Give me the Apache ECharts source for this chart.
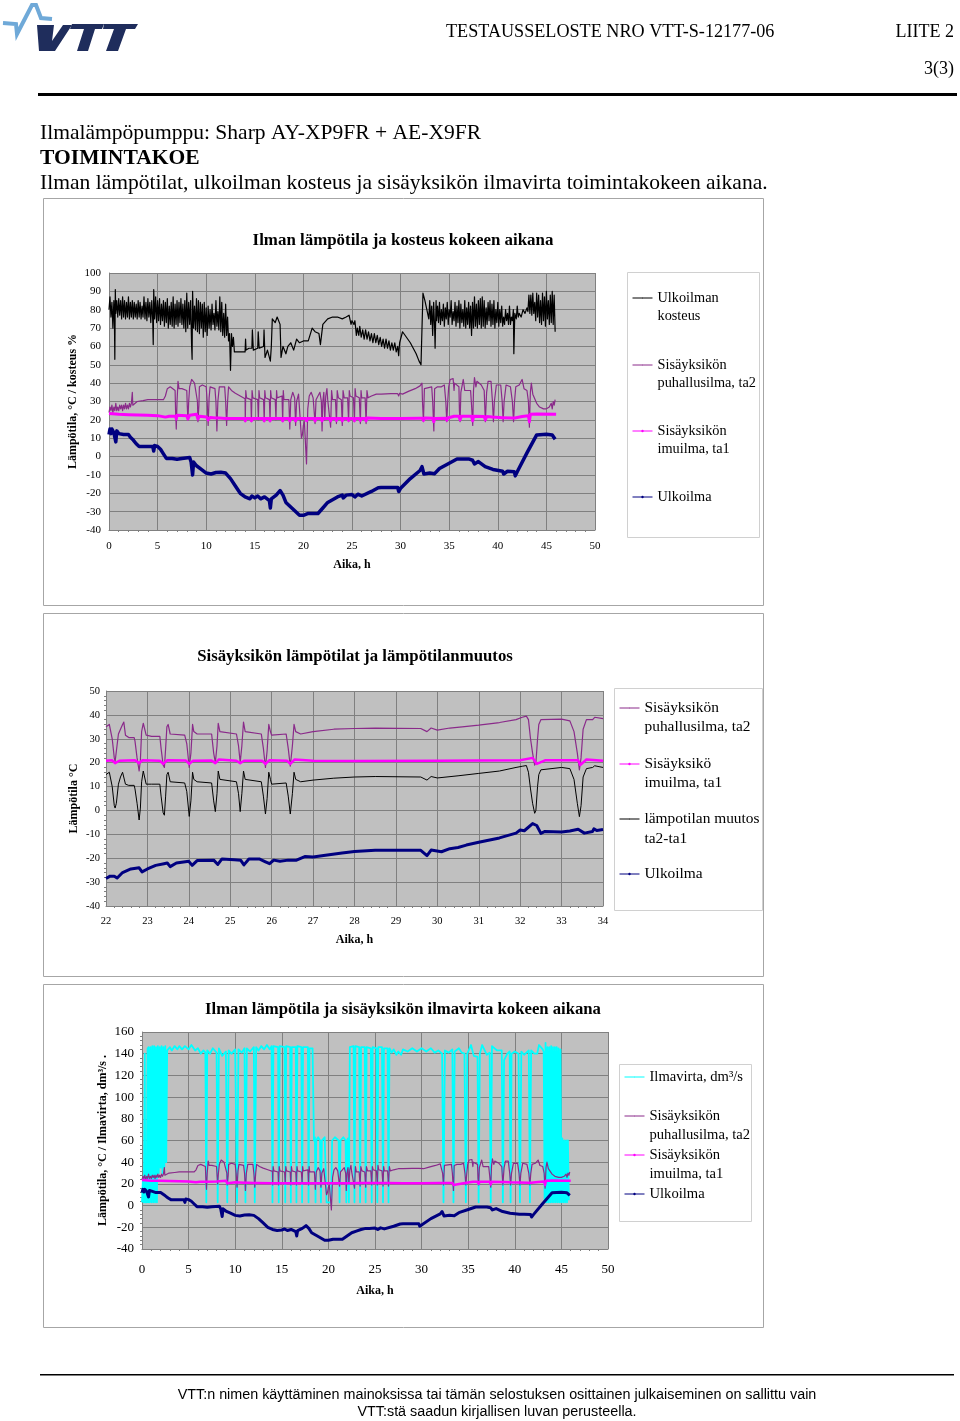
<!DOCTYPE html>
<html>
<head>
<meta charset="utf-8">
<title>Toimintakoe</title>
<script src="https://cdn.jsdelivr.net/npm/echarts@6/dist/echarts.min.js"></script>
<style>
  html, body { margin: 0; padding: 0; background: #fff; }
  #main { width: 960px; height: 1421px; }
</style>
</head>
<body>
<div id="main"></div>
<script>
// Full test, hours 0-46
var humidity = [
  [0,80],[.1,87],[.2,76],[.3,84],[.4,70],[.5,85],[.55,78],[.6,53],[.65,91],[.7,78],[.8,85],[.9,76],[1,86],[1.1,77],[1.2,85],[1.3,75],[1.4,87],[1.5,76],[1.6,85],[1.7,75],[1.8,84],[1.9,76],[2,87],[2.1,75],[2.2,84],[2.3,76],[2.4,85],[2.5,75],[2.6,84],[2.7,76],[2.8,83],[2.9,75],[3,85],[3.1,76],[3.2,84],[3.3,75],[3.4,82],[3.5,76],[3.6,87],[3.7,75],[3.8,84],[3.9,74],[4,86],[4.1,76],[4.2,84],[4.3,73],[4.4,85],[4.5,74],[4.55,61],[4.6,91],[4.7,75],[4.8,87],[4.9,73],[5,85],[5.1,74],[5.2,86],[5.3,72],[5.4,83],[5.5,74],[5.6,85],[5.7,71],[5.8,84],[5.9,73],[6,86],[6.1,70],[6.2,82],[6.3,72],[6.4,84],[6.5,71],[6.6,87],[6.7,70],[6.8,83],[6.9,72],[7,85],[7.1,71],[7.2,84],[7.3,73],[7.4,86],[7.5,72],[7.6,83],[7.7,70],[7.8,85],[7.9,68],[8,89],[8.1,70],[8.2,84],[8.3,72],[8.4,85],[8.5,60],[8.55,53],[8.6,90],[8.7,70],[8.8,82],[8.9,69],[9,86],[9.1,68],[9.2,85],[9.3,67],[9.4,84],[9.5,70],[9.6,83],[9.7,65],[9.8,84],[9.9,68],[10,81],[10.1,66],[10.2,82],[10.3,70],[10.4,80],[10.5,69],[10.6,83],[10.7,72],[10.8,78],[10.9,69],[11,85],[11.1,71],[11.2,79],[11.3,69],[11.4,87],[11.5,68],[11.6,84],[11.7,66],[11.8,78],[11.9,65],[12,83],[12.1,66],[12.2,76],[12.3,63],[12.4,67],[12.5,47],[12.6,67],[12.7,60],[12.8,65],[12.9,57],[13,58],[13.5,57],[14,57],[14.05,64],[14.1,58],[14.4,59],[14.7,59],[14.75,69],[14.85,58],[15.3,59],[15.35,68],[15.45,59],[15.9,60],[15.95,69],[16.05,54],[16.3,58],[16.6,52],[16.7,60],[16.8,75],[17.1,73],[17.3,76],[17.4,77],[17.6,72],[17.7,54],[17.9,60],[18.2,56],[18.4,60],[18.7,62],[19,58],[19.3,64],[19.6,62],[20,63],[20.5,63],[20.9,70],[21.2,68],[21.6,67],[21.75,61],[22,72],[22.5,75],[23,76],[23.5,76],[24,75],[24.4,76],[24.7,77],[24.9,72],[25,74],[25.2,72],[25.3,74],[25.45,66],[25.55,70],[25.7,66],[25.8,71],[25.95,65],[26.1,69],[26.25,64],[26.4,69],[26.55,64],[26.7,68],[26.85,63],[27,67],[27.15,62],[27.3,67],[27.45,62],[27.6,66],[27.75,61],[27.9,65],[28.05,60],[28.2,64],[28.35,59],[28.5,64],[28.65,59],[28.8,63],[28.95,58],[29.1,62],[29.25,58],[29.4,62],[29.55,57],[29.7,60],[29.8,55],[29.9,62],[30.2,68],[30.4,67],[30.6,65],[31,62],[31.3,59],[31.6,56],[31.9,52],[32.1,50],[32.15,60],[32.3,89],[32.5,85],[32.7,80],[32.9,75],[33,85],[33.1,72],[33.2,82],[33.3,66],[33.4,84],[33.5,70],[33.55,59],[33.65,85],[33.7,74],[33.8,82],[33.9,73],[34,84],[34.1,72],[34.2,80],[34.3,74],[34.4,83],[34.5,71],[34.6,81],[34.7,75],[34.8,84],[34.9,72],[35,80],[35.1,76],[35.2,85],[35.3,72],[35.4,79],[35.5,74],[35.6,84],[35.7,71],[35.8,82],[35.9,73],[36,85],[36.1,70],[36.2,83],[36.3,73],[36.4,80],[36.5,71],[36.6,85],[36.7,70],[36.8,81],[36.9,72],[37,84],[37.1,70],[37.2,82],[37.3,66],[37.4,84],[37.5,70],[37.6,87],[37.7,71],[37.8,83],[37.9,70],[38,85],[38.1,72],[38.2,86],[38.3,70],[38.4,87],[38.5,71],[38.6,85],[38.7,70],[38.8,81],[38.9,72],[39,84],[39.1,74],[39.2,85],[39.3,71],[39.4,83],[39.5,72],[39.6,85],[39.7,70],[39.8,80],[39.9,73],[40,84],[40.1,71],[40.2,80],[40.3,73],[40.4,82],[40.5,71],[40.6,76],[40.7,72],[40.8,80],[40.9,74],[41,78],[41.1,72],[41.2,82],[41.3,72],[41.4,76],[41.5,74],[41.6,80],[41.65,56],[41.75,78],[41.9,75],[42,82],[42.1,76],[42.2,78],[42.4,76],[42.6,80],[42.8,78],[43,81],[43.1,79],[43.2,88],[43.3,78],[43.4,88],[43.5,77],[43.6,89],[43.7,78],[43.8,84],[43.9,74],[44,89],[44.1,76],[44.2,88],[44.3,73],[44.4,85],[44.5,72],[44.6,89],[44.7,74],[44.8,87],[44.9,71],[45,90],[45.1,75],[45.2,85],[45.3,72],[45.4,88],[45.5,73],[45.6,90],[45.7,72],[45.8,88],[45.9,68]
];
var ta2 = [
  [0,24],[.1,27],[.2,25],[.3,28],[.4,24],[.5,27],[.6,25],[.7,29],[.8,25],[.9,27],[1,25],[1.1,28],[1.2,26],[1.3,28],[1.4,25],[1.5,28],[1.6,26],[1.7,29],[1.8,26],[1.9,28],[2,26],[2.1,29],[2.2,27],[2.3,29],[2.4,35],[2.45,28],[2.6,29],[2.9,30],[3.1,31],[3.5,30.5],[4,31],[5,31],[5.6,31],[5.8,33],[6,37],[6.3,38],[6.8,36],[6.85,25],[6.92,15],[7,30],[7.1,41],[7.2,37],[7.5,37],[7.6,36.5],[8,36],[8.05,28],[8.12,20],[8.2,30],[8.3,38],[8.45,37],[8.5,42],[8.8,40],[9,40],[9.1,30],[9.15,19],[9.25,28],[9.3,38],[9.6,39],[10,38],[10.1,30],[10.2,17],[10.3,32],[10.4,38],[10.9,37],[11,30],[11.1,14],[11.2,30],[11.35,38],[11.9,38],[12,30],[12.1,17],[12.2,30],[12.3,38],[12.6,36],[13,34.5],[13.5,33],[14,31.5],[14.02,19],[14.07,36],[14.15,32],[14.6,31],[14.65,19],[14.72,36],[14.8,32],[15.3,31],[15.37,20],[15.43,36],[15.5,32],[15.9,31],[15.97,19],[16.03,36],[16.1,32],[16.5,31],[16.57,19],[16.63,36],[16.7,32],[17.1,31],[17.18,20],[17.24,36],[17.3,32],[17.8,33],[17.87,19],[17.93,36],[18,31],[18.5,31],[18.6,15],[18.7,31],[18.9,35],[19.1,32],[19.2,17],[19.3,30],[19.5,34],[19.7,34],[19.8,10],[19.9,12],[20,17],[20.1,19],[20.2,19],[20.32,-4],[20.45,26],[20.6,33],[20.8,35],[21,32],[21.1,32],[21.2,18],[21.3,31],[21.5,33],[21.7,35],[21.85,30],[21.92,14],[22,30],[22.1,35],[22.2,20],[22.3,33],[22.42,37],[22.5,31],[22.7,30],[22.8,16],[22.9,36],[23,31],[23.3,31],[23.4,18],[23.48,36],[23.6,32],[23.9,31],[24,17],[24.08,36],[24.2,32],[24.55,32],[24.65,19],[24.72,36],[24.8,33],[25.15,32],[25.25,19],[25.32,37],[25.4,33],[25.75,32],[25.86,18],[25.93,36],[26,32],[26.35,32],[26.45,18],[26.54,36],[26.65,32],[27,33],[27.5,34],[28,34],[29,34.3],[29.7,34.3],[29.8,33],[29.9,34.5],[30.2,34],[30.8,35.5],[31.5,37],[32,38.5],[32.2,40],[32.25,30],[32.35,19],[32.45,37],[32.6,38],[33.2,38],[33.3,30],[33.42,14],[33.5,37],[33.8,38],[34.2,38],[34.5,39],[34.65,30],[34.75,19],[34.85,30],[34.95,38],[35.1,42],[35.4,42.5],[35.5,36],[35.55,40],[36,38],[36.05,25],[36.12,19],[36.2,35],[36.45,42],[36.6,36],[36.8,37],[37.2,36],[37.3,28],[37.42,17],[37.5,36],[37.6,43],[37.75,38],[37.85,41],[38.3,39],[38.6,36],[38.72,19],[38.85,35],[39,41],[39.3,41],[39.45,30],[39.55,19],[39.65,30],[39.85,39],[40.3,39],[40.45,30],[40.55,19],[40.65,30],[40.85,39],[41.3,38],[41.5,30],[41.62,19],[41.72,30],[41.85,38],[42.2,39],[42.5,42],[42.7,37],[43,36],[43.15,30],[43.25,16],[43.35,35],[43.45,40],[43.6,34],[43.8,33],[44,29],[44.3,27],[44.7,26],[45,26],[45.2,25],[45.3,27],[45.4,26],[45.5,29],[45.6,26],[45.7,30],[45.8,28],[45.9,31]
];
var ta1 = [
  [0,23.5],[1,23],[2,22.8],[3,22.7],[4,22.5],[5,22.3],[5.8,21.5],[6.2,22],[6.85,22],[6.92,20.5],[7,22.5],[8,22.3],[8.12,20.5],[8.3,22.5],[9,23],[9.15,20.5],[9.3,22],[10.05,21.5],[10.2,20],[10.4,21.3],[11,21],[11.1,20.3],[11.3,21],[12,20.8],[12.1,20.3],[12.3,20.8],[13.95,20.7],[14.02,19.5],[14.1,20.7],[14.6,20.7],[14.65,19.5],[14.75,20.7],[15.3,20.7],[15.37,19.7],[15.45,20.7],[15.9,20.7],[15.97,19.5],[16.05,20.7],[16.5,20.7],[16.57,19.5],[16.65,20.7],[17.1,20.7],[17.18,19.7],[17.25,20.7],[17.8,20.7],[17.87,19.5],[17.95,20.7],[18.5,20.7],[18.6,19.5],[18.7,20.7],[19.1,20.7],[19.2,19.5],[19.3,20.7],[19.7,20.7],[19.8,19.7],[19.9,20.7],[20.25,20.7],[20.32,19.5],[20.45,20.7],[21.1,20.7],[21.2,19.5],[21.3,20.7],[21.85,20.7],[21.92,19.5],[22,20.7],[22.7,20.7],[22.8,19.5],[22.9,20.8],[23.3,20.8],[23.4,19.7],[23.5,20.8],[23.9,20.8],[24,19.5],[24.1,20.8],[24.55,20.8],[24.65,19.7],[24.75,20.8],[25.15,20.8],[25.25,19.5],[25.35,20.8],[25.75,20.8],[25.86,19.7],[25.95,20.8],[26.35,20.8],[26.45,19.5],[26.55,21],[28,20.7],[30,20.7],[32,20.9],[32.25,20.9],[32.35,19.7],[32.45,21],[33.3,20.9],[33.42,19],[33.5,20.8],[34.65,20.9],[34.75,19.8],[34.85,21],[35.5,22],[36,21.9],[36.12,20],[36.25,22],[37.3,22],[37.42,19.5],[37.5,22],[38.6,21.8],[38.72,20],[38.85,21.8],[39.45,21.5],[39.55,20.5],[39.65,21.5],[40.45,21.2],[40.55,20.3],[40.65,21],[41.5,21],[41.62,20.3],[41.75,21],[42.5,21.8],[43.15,22.2],[43.25,19],[43.35,23],[44,23.2],[46,23]
];
var outdoor = [
  [0,12],[.1,15],[.2,12.5],[.3,15],[.5,13],[.65,13],[.7,8],[.8,14],[1,12.5],[1.5,12],[2,12],[2.2,10.5],[2.5,9],[2.8,7],[3.1,5.5],[4,5.5],[4.5,5.5],[4.6,3],[4.7,6],[5,5.5],[5.3,4],[5.6,1.5],[5.9,-1],[6.5,-1],[7,-1.5],[7.2,-2],[7.5,-1],[8.3,-.5],[8.45,-3],[8.6,-10],[8.7,-3],[9,-5],[9.5,-7],[10,-9],[10.5,-9.5],[11,-8.7],[11.2,-9.5],[11.5,-8.5],[12,-9],[12.5,-12],[13,-16],[13.5,-20],[14,-22],[14.5,-23],[14.7,-21.5],[15,-22.5],[15.3,-21.5],[15.6,-23],[16,-22],[16.5,-24],[16.6,-28],[16.7,-23],[17.2,-21],[17.6,-18.5],[17.9,-21],[18.2,-25],[19,-29],[19.6,-32],[20,-32],[20.5,-31],[21.5,-31],[22,-28],[22.5,-25],[23,-23.5],[23.5,-22],[24,-21],[24.1,-22.5],[24.4,-21],[25,-20.7],[25.3,-22],[25.6,-20.5],[26,-21.5],[27,-19],[27.7,-17],[28,-16.8],[29.7,-16.8],[29.8,-19],[30,-17.3],[31,-12],[32,-7.6],[32.2,-5.5],[32.4,-9.5],[33,-9],[33.5,-9.3],[34,-6.5],[35,-3.6],[35.8,-1.3],[37,-1.3],[37.4,-2],[37.6,-4],[38,-2.7],[38.7,-5.5],[39.5,-7],[40.5,-8],[40.6,-9.5],[41,-8],[41.7,-8.3],[41.8,-10.5],[42,-8.3],[43,2],[44,11.8],[44.2,12.4],[45,12.2],[45.6,11.8],[45.9,9.5]
];
var airflow = [
  [0,3],[.1,25],[.2,3],[.3,140],[.35,3],[.45,25],[.5,3],[.6,145],[.65,3],[.7,146],[.8,3],[.9,146],[1,3],[1.1,147],[1.2,3],[1.3,147],[1.4,3],[1.5,146],[1.6,3],[1.7,147],[1.8,30],[1.9,146],[2,35],[2.1,147],[2.2,30],[2.3,146],[2.4,35],[2.5,147],[2.6,40],[2.7,143],[3,146],[3.2,143],[3.5,147],[3.8,144],[4,147],[4.3,144],[4.6,147],[5,144],[5.3,148],[5.7,143],[6,145],[6.3,140],[6.6,143],[6.8,141],[6.9,3],[7,143],[7.3,140],[7.6,145],[8,141],[8.12,3],[8.25,145],[8.6,138],[9,142],[9.15,3],[9.3,143],[9.6,140],[10,144],[10.2,3],[10.35,144],[10.7,141],[11,145],[11.1,3],[11.25,145],[11.6,142],[12,146],[12.1,3],[12.25,146],[12.5,143],[12.8,147],[13.1,144],[13.4,148],[13.7,144],[13.9,147],[14,3],[14.1,147],[14.6,146],[14.67,3],[14.77,147],[15.3,146],[15.37,3],[15.47,147],[15.9,146],[15.97,3],[16.07,146],[16.5,146],[16.57,3],[16.67,147],[17.1,146],[17.18,3],[17.28,146],[17.8,146],[17.87,3],[17.97,145],[18.3,145],[18.45,60],[18.55,63],[18.62,3],[18.7,60],[18.9,63],[19.1,60],[19.2,3],[19.3,60],[19.6,63],[19.8,3],[20.3,3],[20.4,60],[20.7,63],[21.1,60],[21.2,3],[21.3,60],[21.6,63],[21.85,60],[21.92,3],[22,60],[22.1,62],[22.2,3],[22.3,146],[22.7,147],[22.8,3],[22.9,147],[23.3,146],[23.4,3],[23.5,146],[23.9,146],[24,3],[24.1,146],[24.55,145],[24.65,3],[24.75,146],[25.15,145],[25.25,3],[25.35,146],[25.75,146],[25.86,3],[25.96,145],[26.35,145],[26.45,3],[26.55,145],[26.8,141],[27,144],[27.3,139],[27.5,142],[27.8,139],[28,144],[28.5,142],[29,145],[29.5,142],[30,145],[30.5,142],[31,145],[31.4,141],[31.8,143],[32.2,140],[32.35,3],[32.5,143],[32.9,141],[33.3,144],[33.42,3],[33.55,142],[34,145],[34.3,141],[34.6,140],[34.75,3],[34.9,140],[35.3,148],[35.6,138],[36,137],[36.12,3],[36.25,140],[36.5,148],[37,139],[37.3,141],[37.42,3],[37.55,147],[38.1,143],[38.6,143],[38.72,3],[38.85,134],[39.2,140],[39.45,142],[39.55,3],[39.65,140],[40,142],[40.4,140],[40.55,3],[40.7,142],[41,139],[41.5,143],[41.62,3],[41.75,143],[42.1,140],[42.4,140],[42.6,148],[43,144],[43.1,142],[43.2,3],[43.3,150],[43.4,3],[43.5,146],[43.6,3],[43.7,146],[43.8,3],[43.9,147],[44,3],[44.1,146],[44.2,3],[44.3,146],[44.4,3],[44.5,146],[44.6,3],[44.7,145],[44.8,3],[44.9,144],[45,3],[45.1,62],[45.2,3],[45.3,60],[45.4,3],[45.5,60],[45.6,3],[45.7,60],[45.8,5]
];

// Hours 22-34
var ta2Zoom = [
  [22,35],[22.08,36],[22.12,36],[22.15,30],[22.2,22],[22.22,20.5],[22.25,21],[22.3,32],[22.35,34],[22.4,36],[22.43,37],[22.45,36.5],[22.47,31.5],[22.55,30.5],[22.68,30.5],[22.7,29],[22.75,22],[22.8,16.5],[22.83,21],[22.86,33],[22.9,36.5],[22.93,36.5],[22.97,31.5],[23.1,31],[23.3,31],[23.33,26],[23.38,19],[23.41,18],[23.44,26],[23.47,35],[23.5,36],[23.55,32],[23.9,31.5],[23.95,28],[24.01,18],[24.05,24],[24.09,36],[24.12,33],[24.2,32],[24.55,32],[24.6,24],[24.64,20],[24.68,27],[24.71,36.5],[24.75,33],[25.15,32],[25.2,27],[25.24,20],[25.28,27],[25.32,37],[25.36,33],[25.75,32],[25.8,26],[25.85,18],[25.89,25],[25.93,36],[25.97,33],[26,31.5],[26.35,32],[26.4,26],[26.45,18.5],[26.5,27],[26.54,36],[26.58,33],[26.7,32],[27,33],[27.5,34],[28,34.3],[28.5,34.5],[29.6,34.3],[29.75,33],[29.85,34.5],[30,33.6],[30.3,34.5],[30.6,35],[31,35.7],[31.5,36.8],[31.9,38],[32.05,39],[32.15,39.5],[32.2,38],[32.25,30],[32.3,24],[32.35,19],[32.38,20],[32.42,30],[32.45,36],[32.5,38],[33,38.2],[33.2,37.5],[33.3,33],[33.38,24],[33.43,17],[33.47,22],[33.52,34],[33.6,38],[33.75,38],[33.8,39],[34,38.4]
];
var ta1Zoom = [
  [22,20.8],[22.15,21],[22.22,19.8],[22.32,20.8],[22.7,21],[22.8,19.8],[22.88,21],[23.3,20.8],[23.38,19.5],[23.48,21],[23.93,20.9],[24.01,19.5],[24.1,20.8],[24.55,20.9],[24.64,19.8],[24.72,21.3],[25.15,20.8],[25.24,19.8],[25.33,20.8],[25.77,20.8],[25.85,19.5],[25.94,21],[26.37,20.8],[26.45,19.5],[26.55,21.3],[27,20.8],[28,20.7],[30,20.8],[32,21],[32.3,22],[32.4,19.5],[32.6,21],[33.4,21],[33.45,19],[33.6,21.3],[34,20.8]
];
var diffZoom = [
  [22,15],[22.08,16],[22.12,16],[22.15,10],[22.2,2],[22.22,1],[22.25,3],[22.3,11],[22.35,14],[22.4,16],[22.43,16.5],[22.47,11],[22.55,10.5],[22.68,10.5],[22.7,9],[22.75,3],[22.8,-4],[22.83,1],[22.86,12],[22.9,16.5],[22.93,16],[22.97,11],[23.1,11],[23.3,11],[23.33,6],[23.38,-1],[23.41,-2],[23.44,6],[23.47,15],[23.5,16],[23.55,12],[23.9,11.5],[23.95,8],[24.01,-2.5],[24.05,4],[24.09,16],[24.12,13],[24.2,12],[24.55,11.5],[24.6,4],[24.64,-.5],[24.68,7],[24.71,16.5],[24.75,13],[25.15,12],[25.2,7],[25.24,-.5],[25.28,7],[25.32,16.5],[25.36,13],[25.75,12],[25.8,6],[25.85,-1.5],[25.89,5],[25.93,16],[25.97,13],[26,11],[26.35,11.5],[26.4,6],[26.45,-1.5],[26.5,7],[26.54,16],[26.58,13],[26.7,12],[27,12.7],[27.5,13.5],[28,14],[28.5,14.2],[29.6,14],[29.75,12.7],[29.85,14.2],[30,13.6],[30.5,14.5],[31,15.5],[31.5,16.5],[31.9,18],[32.05,18.5],[32.15,18.8],[32.2,16],[32.25,9],[32.3,3],[32.35,-1.2],[32.38,0],[32.42,10],[32.45,15],[32.5,17],[33,18],[33.2,17.5],[33.3,13],[33.38,3],[33.43,-2.6],[33.47,2],[33.52,14],[33.6,17.5],[33.75,18],[33.8,18.7],[34,18]
];
var outdoorZoom = [
  [22,-28.5],[22.1,-27.5],[22.2,-27.5],[22.27,-28.3],[22.4,-26],[22.6,-24.5],[22.8,-24],[22.87,-25.7],[23,-24.5],[23.2,-23],[23.4,-22.3],[23.48,-22],[23.55,-23.5],[23.7,-22],[24,-21.3],[24.08,-23],[24.2,-21],[24.6,-20.8],[24.7,-22.6],[24.8,-20.3],[25.1,-20.6],[25.25,-20.8],[25.33,-22.8],[25.45,-20.3],[25.7,-20.3],[25.85,-21.5],[25.95,-22.3],[26.05,-20.8],[26.2,-21.3],[26.4,-20.8],[26.6,-20.8],[26.8,-19.3],[27,-19.5],[27.3,-18.8],[27.7,-17.8],[28,-17.2],[28.5,-16.7],[29.6,-16.7],[29.75,-18.9],[29.85,-16.6],[30.1,-17.3],[30.3,-16],[30.5,-15.5],[30.7,-14.5],[31,-13.3],[31.5,-11.5],[31.9,-9.5],[32,-8.2],[32.1,-8.5],[32.3,-5.5],[32.4,-6.3],[32.5,-9.6],[32.6,-8.8],[33,-9],[33.2,-8.6],[33.4,-7.9],[33.55,-9.5],[33.75,-8.8],[33.78,-7.7],[33.85,-8.4],[34,-8]
];

var chart = echarts.init(document.getElementById('main'), null, { renderer: 'canvas' });

var SERIF = '"Liberation Serif", "Times New Roman", serif';
var SANS = '"Liberation Sans", Arial, sans-serif';

// names shared between the legends and the series
var N_HUMIDITY = 'Ulkoilman\nkosteus';
var N_TA2 = 'Sisäyksikön\npuhallusilma, ta2';
var N_TA1 = 'Sisäyksikön\nimuilma, ta1';
var N_TA1_B = 'Sisäyksikö\nimuilma, ta1';
var N_DIFF = 'lämpotilan muutos\nta2-ta1';
var N_OUT = 'Ulkoilma';
var N_FLOW = 'Ilmavirta, dm³/s';

function txt(x, y, text, size, opt) {
  opt = opt || {};
  return {
    type: 'text', x: x, y: y, silent: true,
    style: {
      text: text,
      fill: opt.fill || '#000',
      font: (opt.bold ? 'bold ' : '') + size + 'px ' + (opt.family || SERIF),
      textAlign: opt.align || 'left',
      textVerticalAlign: 'middle'
    }
  };
}
function box(x, y, w, h, color) {
  return {
    type: 'rect', silent: true, z: -1,
    shape: { x: x + 0.5, y: y + 0.5, width: w, height: h },
    style: { fill: null, stroke: color, lineWidth: 1 }
  };
}
function poly(points, fill) {
  return { type: 'polygon', silent: true, shape: { points: points }, style: { fill: fill } };
}

// y is the centre of the first text line, a leading blank line keeps the
// icon level with it on two-line entries
function legendAt(name, iconX, y, size, lineH, marker) {
  var two = name.indexOf('\n') >= 0;
  return {
    show: true,
    orient: 'vertical',
    selectedMode: false,
    left: iconX,
    top: two ? y - 1.5 * lineH : y - lineH / 2,
    padding: 0,
    itemWidth: 20,
    itemHeight: marker ? 3 : 1,
    itemGap: 0,
    lineStyle: { width: 1 },
    data: [name],
    formatter: function (n) { return two ? '\n' + n : n; },
    textStyle: { fontFamily: SERIF, fontSize: size, lineHeight: lineH, color: '#000' }
  };
}

function xAxis(gridIndex, min, max, interval, size, margin, gap) {
  return {
    type: 'value', gridIndex: gridIndex, min: min, max: max, interval: interval,
    name: 'Aika, h', nameLocation: 'middle', nameGap: gap, nameMoveOverlap: false,
    nameTextStyle: { fontFamily: SERIF, fontWeight: 'bold', fontSize: 12, color: '#000' },
    axisLine: { onZero: false, lineStyle: { color: '#808080' } },
    axisTick: { show: false },
    minorTick: { show: true, splitNumber: 5, length: 2, lineStyle: { color: '#808080' } },
    axisLabel: { fontFamily: SERIF, fontSize: size, color: '#000', margin: margin, hideOverlap: false, showMinLabel: true, showMaxLabel: true },
    splitLine: { show: true, lineStyle: { color: '#808080', width: 1 } }
  };
}
function yAxis(gridIndex, min, max, interval, size, margin, name, gap, minor) {
  return {
    type: 'value', gridIndex: gridIndex, min: min, max: max, interval: interval,
    name: name, nameLocation: 'middle', nameGap: gap, nameRotate: 90, nameMoveOverlap: false,
    nameTextStyle: { fontFamily: SERIF, fontWeight: 'bold', fontSize: 12, color: '#000' },
    axisLine: { show: true, onZero: false, lineStyle: { color: '#808080' } },
    axisTick: { show: false },
    minorTick: { show: minor, splitNumber: 5, length: 2, lineStyle: { color: '#808080' } },
    axisLabel: { fontFamily: SERIF, fontSize: size, color: '#000', margin: margin, padding: [2, 0, 0, 0], hideOverlap: false, showMinLabel: true, showMaxLabel: true },
    splitLine: { show: true, lineStyle: { color: '#808080', width: 1 } }
  };
}
function line(name, data, axisIndex, color, width, marker) {
  return {
    type: 'line', name: name, data: data,
    xAxisIndex: axisIndex, yAxisIndex: axisIndex,
    symbol: marker ? 'circle' : 'none', showSymbol: false,
    silent: true, clip: true,
    lineStyle: { color: color, width: width, join: 'round' },
    itemStyle: { color: color }
  };
}
function heading(text, x, y, size) {
  return {
    text: text, left: x, top: y, textAlign: 'center', padding: 0,
    textStyle: { fontFamily: SERIF, fontWeight: 'bold', fontSize: size, color: '#000', lineHeight: size + 2 }
  };
}

var option = {
  animation: false,
  backgroundColor: '#fff',
  title: [
    heading('Ilman lämpötila ja kosteus kokeen aikana', 403, 231, 16.9),
    heading('Sisäyksikön lämpötilat ja lämpötilanmuutos', 355, 647, 16.8),
    heading('Ilman lämpötila ja sisäyksikön ilmavirta kokeen aikana', 403, 1000, 16.7)
  ],
  grid: [
    { left: 109, top: 273, width: 486, height: 257, backgroundColor: '#c0c0c0', show: true, borderWidth: 0 },
    { left: 106, top: 691, width: 497, height: 215, backgroundColor: '#c0c0c0', show: true, borderWidth: 0 },
    { left: 142, top: 1032, width: 466, height: 217, backgroundColor: '#c0c0c0', show: true, borderWidth: 0 }
  ],
  xAxis: [
    xAxis(0, 0, 50, 5, 11, 11, 29),
    xAxis(1, 22, 34, 1, 10.5, 10, 28),
    xAxis(2, 0, 50, 5, 13, 14, 36)
  ],
  yAxis: [
    yAxis(0, -40, 100, 10, 11, 8, 'Lämpötila, °C / kosteus %', 30, false),
    yAxis(1, -40, 50, 10, 10.5, 6, 'Lämpötila °C', 26, true),
    yAxis(2, -40, 160, 20, 13, 8, 'Lämpötila, °C / Ilmavirta, dm³/s .', 33, true)
  ],
  legend: [
    legendAt(N_HUMIDITY, 632, 298, 14.3, 18),
    legendAt(N_TA2, 632, 365, 14.3, 18),
    legendAt(N_TA1, 632, 431, 14.3, 18, true),
    legendAt(N_OUT, 632, 497, 14.3, 18, true),
    legendAt(N_TA2, 619, 708, 15.4, 19),
    legendAt(N_TA1_B, 619, 764, 15.4, 19, true),
    legendAt(N_DIFF, 619, 819, 15.4, 20),
    legendAt(N_OUT, 619, 874, 15.4, 19, true),
    legendAt(N_FLOW, 624, 1077, 14.6, 19),
    legendAt(N_TA2, 624, 1116, 14.6, 19),
    legendAt(N_TA1, 624, 1155, 14.6, 19, true),
    legendAt(N_OUT, 624, 1194, 14.6, 19, true)
  ],
  series: [
    line(N_HUMIDITY, humidity, 0, '#000000', 1.2),
    line(N_TA2, ta2, 0, '#8a2a8a', 1.2),
    line(N_TA1, ta1, 0, '#ff00ff', 3, true),
    line(N_OUT, outdoor, 0, '#000080', 3.5, true),

    line(N_TA2, ta2Zoom, 1, '#8a2a8a', 1.2),
    line(N_TA1_B, ta1Zoom, 1, '#ff00ff', 2.5, true),
    line(N_DIFF, diffZoom, 1, '#000000', 1),
    line(N_OUT, outdoorZoom, 1, '#000080', 3, true),

    line(N_FLOW, airflow, 2, '#00ffff', 1.8),
    line(N_TA2, ta2, 2, '#8a2a8a', 1.2),
    line(N_TA1, ta1, 2, '#ff00ff', 2.5, true),
    line(N_OUT, outdoor, 2, '#000080', 3, true)
  ],
  graphic: [
    { type: 'polyline', silent: true,
      shape: { points: [[3,23],[16,24],[17,34],[32,5],[36,5],[41,18],[52,19]] },
      style: { stroke: '#6fa9d8', lineWidth: 4, fill: null } },
    poly([[37,25],[54,25],[52,41],[63,25],[72,25],[55,51],[39,51]], '#1f2d5c'),
    poly([[72,24],[104,24],[102,29],[95,29],[88,51],[77,51],[84,29],[70,29]], '#1f2d5c'),
    poly([[104,24],[138,24],[135,29],[126,29],[118,51],[106,51],[114,29],[103,29]], '#1f2d5c'),

    txt(446, 32, 'TESTAUSSELOSTE NRO VTT-S-12177-06', 18.15),
    txt(954, 32, 'LIITE 2', 18, { align: 'right' }),
    txt(954, 69, '3(3)', 18, { align: 'right' }),
    { type: 'rect', silent: true, shape: { x: 38, y: 93, width: 919, height: 3 }, style: { fill: '#000' } },
    txt(40, 133, 'Ilmalämpöpumppu: Sharp AY-XP9FR + AE-X9FR', 21.55),
    txt(40, 158, 'TOIMINTAKOE', 21.55, { bold: true }),
    txt(40, 183, 'Ilman lämpötilat, ulkoilman kosteus ja sisäyksikön ilmavirta toimintakokeen aikana.', 21.55),

    box(43, 198, 720, 407, '#a6a6a6'),
    box(43, 613, 720, 363, '#a6a6a6'),
    box(43, 984, 720, 343, '#a6a6a6'),
    box(627, 272, 132, 265, '#d0d0d0'),
    box(614, 688, 148, 222, '#d0d0d0'),
    box(619, 1064, 132, 157, '#d0d0d0'),

    { type: 'rect', silent: true, shape: { x: 40, y: 1374, width: 914, height: 1.5 }, style: { fill: '#000' } },
    txt(497, 1395, 'VTT:n nimen käyttäminen mainoksissa tai tämän selostuksen osittainen julkaiseminen on sallittu vain', 14.35, { family: SANS, align: 'center' }),
    txt(497, 1412, 'VTT:stä saadun kirjallisen luvan perusteella.', 14.35, { family: SANS, align: 'center' })
  ]
};
chart.setOption(option);
</script>
</body>
</html>
